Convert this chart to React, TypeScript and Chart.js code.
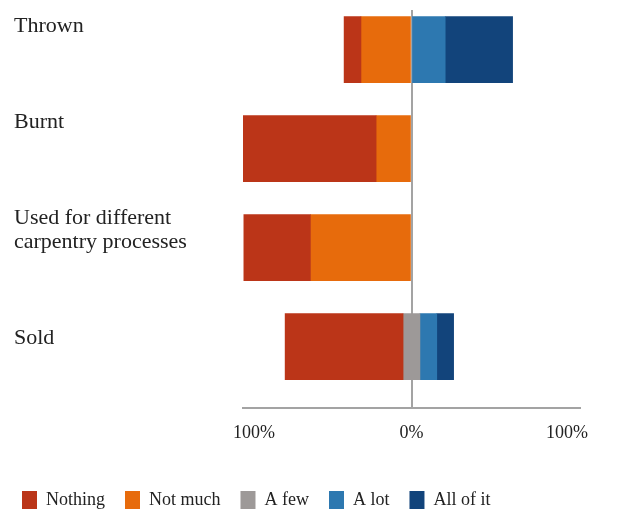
import { useEffect, useRef } from 'react';
import { Chart, registerables } from 'chart.js';

Chart.register(...registerables);

// Row labels (one entry per line of text)
const CATEGORIES: string[][] = [
  ['Thrown'],
  ['Burnt'],
  ['Used for different', 'carpentry processes'],
  ['Sold'],
];

const SERIES_NAMES = ['Nothing', 'Not much', 'A few', 'A lot', 'All of it'];

// Share of answers per row, in percent
const NOTHING = [10, 79, 39.5, 70];
const NOT_MUCH = [30, 21, 60, 0];
const A_FEW = [0, 0, 0, 10];
const A_LOT = [20, 0, 0, 10];
const ALL_OF_IT = [40, 0, 0, 10];

const X_TICKS = [-100, 0, 100];
const X_TICK_LABELS = ['100%', '0%', '100%'];

const COLORS = ['#BB3518', '#E76B0C', '#9D9998', '#2D78B0', '#12447B'];

const FONT = '"Liberation Serif", "DejaVu Serif", serif';
const TEXT_COLOR = '#222222';
const AXIS_COLOR = '#A3A3A3';

// Vertical nudges of the row labels and the end tick labels
const LABEL_SHIFT = [-18, -21, -24, -3];
const LABEL_LINE_HEIGHT = 24.4;
const TICK_NUDGE = [11, 0, -13];

type Range = [number, number];

// Diverging layout: negative answers to the left of zero, the neutral
// answer centred on zero, positive answers to the right.
function buildRanges(): Range[][] {
  const series: Range[][] = [[], [], [], [], []];
  CATEGORIES.forEach((_, i) => {
    const half = A_FEW[i] / 2;
    const notMuchEnd = -half - NOT_MUCH[i];
    const nothingEnd = notMuchEnd - NOTHING[i];
    const lotEnd = half + A_LOT[i];
    series[0].push([nothingEnd, notMuchEnd]);
    series[1].push([notMuchEnd, -half]);
    series[2].push([-half, half]);
    series[3].push([half, lotEnd]);
    series[4].push([lotEnd, lotEnd + ALL_OF_IT[i]]);
  });
  return series;
}

const labelsPlugin = {
  id: 'rowAndTickLabels',
  afterDraw(chart: any) {
    const { ctx, scales, chartArea } = chart;
    const x = scales.x;
    const y = scales.y;
    ctx.save();
    ctx.fillStyle = TEXT_COLOR;
    ctx.textBaseline = 'alphabetic';

    ctx.font = `22px ${FONT}`;
    ctx.textAlign = 'left';
    CATEGORIES.forEach((lines, i) => {
      const base = y.getPixelForValue(i) + LABEL_SHIFT[i];
      lines.forEach((line, j) => ctx.fillText(line, 14, base + j * LABEL_LINE_HEIGHT));
    });

    ctx.font = `18px ${FONT}`;
    ctx.textAlign = 'center';
    X_TICKS.forEach((v, i) => {
      ctx.fillText(X_TICK_LABELS[i], x.getPixelForValue(v) + TICK_NUDGE[i], chartArea.bottom + 30);
    });
    ctx.restore();
  },
};

export default function App() {
  const canvasRef = useRef<HTMLCanvasElement | null>(null);

  useEffect(() => {
    if (!canvasRef.current) return;
    const prevOverflow = document.documentElement.style.overflow;
    document.documentElement.style.overflow = 'hidden';

    const ranges = buildRanges();
    const datasets = SERIES_NAMES.map((name, s) => ({
      label: name,
      data: ranges[s]
        .map((r, i) => ({ y: i, x: r }))
        .filter((p) => p.x[1] - p.x[0] > 0),
      backgroundColor: COLORS[s],
      borderWidth: 0,
      barThickness: 66,
      grouped: false,
    }));

    const chart = new Chart(canvasRef.current, {
      type: 'bar',
      data: { datasets } as any,
      plugins: [labelsPlugin],
      options: {
        indexAxis: 'y',
        animation: false,
        responsive: false,
        layout: { padding: { left: 2, right: 53, top: 10, bottom: 0 } },
        scales: {
          x: {
            type: 'linear',
            min: -100,
            max: 100,
            z: 1,
            afterBuildTicks: (scale: any) => {
              scale.ticks = X_TICKS.map((v) => ({ value: v }));
            },
            afterFit: (scale: any) => {
              scale.height = 63;
            },
            ticks: { display: false },
            grid: {
              color: (c: any) => (c.tick && c.tick.value === 0 ? AXIS_COLOR : 'rgba(0,0,0,0)'),
              lineWidth: 2,
              drawTicks: false,
            },
            border: { display: true, color: AXIS_COLOR, width: 2 },
          },
          y: {
            type: 'linear',
            reverse: true,
            offset: false,
            min: -0.4,
            max: 3.62,
            afterFit: (scale: any) => {
              scale.width = 241;
            },
            ticks: { display: false },
            grid: { display: false, offset: false },
            border: { display: false },
          },
        },
        plugins: {
          tooltip: { enabled: false },
          legend: {
            position: 'bottom',
            align: 'start',
            labels: {
              boxWidth: 15,
              boxHeight: 18,
              padding: 20,
              color: TEXT_COLOR,
              font: { family: FONT, size: 18 },
            },
          },
        },
      } as any,
    });

    return () => {
      chart.destroy();
      document.documentElement.style.overflow = prevOverflow;
    };
  }, []);

  return (
    <div style={{ position: 'absolute', left: 0, top: 0, width: 633, height: 512, overflow: 'hidden', background: '#fff' }}>
      <canvas ref={canvasRef} width={633} height={519} style={{ width: 633, height: 519, display: 'block' }} />
    </div>
  );
}
